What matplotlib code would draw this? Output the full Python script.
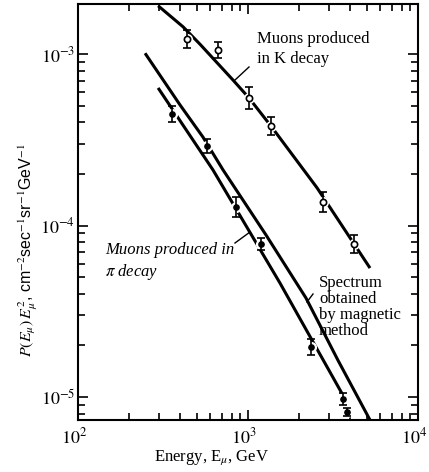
import matplotlib
matplotlib.use('Agg')
import matplotlib.pyplot as plt
import matplotlib.ticker as mticker
import matplotlib.transforms as mtransforms
from matplotlib.lines import Line2D
import numpy as np

plt.rcParams['mathtext.fontset'] = 'stix'
plt.rcParams['font.family'] = ['Liberation Serif', 'DejaVu Serif']

# ---- data ----
# muons from K decay (open circles)
k_energy = [437, 666, 1014, 1365, 2760, 4207]
k_flux = [1.22e-3, 1.05e-3, 5.54e-4, 3.80e-4, 1.37e-4, 7.8e-5]
k_err_dex = [0.052, 0.047, 0.064, 0.052, 0.058, 0.052]

# muons from pi decay (filled dots)
pi_energy = [357, 574, 850, 1192, 2350, 3625, 3817]
pi_flux = [4.47e-4, 2.91e-4, 1.28e-4, 7.8e-5, 1.96e-5, 9.7e-6, 8.2e-6]
pi_err_dex = [0.047, 0.041, 0.058, 0.035, 0.047, 0.035, 0.023]

# curves
k_curve_e = [296, 415, 522, 816, 1014, 1365, 2546, 5220]
k_curve_v = [1.91e-3, 1.44e-3, 1.14e-3, 7.05e-4, 5.54e-4, 3.8e-4, 1.66e-4, 5.65e-5]

mag_curve_e = [248, 398, 543, 713, 1276, 2193, 3381, 5220]
mag_curve_v = [1.01e-3, 5.05e-4, 3.28e-4, 2.11e-4, 8.81e-5, 3.78e-5, 1.64e-5, 7.35e-6]

pi_curve_e = [296, 622, 1542, 3570]
pi_curve_v = [6.34e-4, 2.11e-4, 4.62e-5, 1.05e-5]

x_ticks = [1e2, 1e3, 1e4]
x_tick_labels = [r'$\mathit{10^{2}}$', r'$\mathit{10^{3}}$', r'$\mathit{10^{4}}$']
y_ticks = [1e-5, 1e-4, 1e-3]
y_tick_labels = [r'$\mathit{10^{-5}}$', r'$\mathit{10^{-4}}$', r'$\mathit{10^{-3}}$']

W, H = 429, 472
def fx(p):
    return p / W
def fy(p):
    return 1 - p / H

fig = plt.figure(figsize=(W / 100, H / 100), dpi=100)
ax = fig.add_axes([fx(78), fy(420), (418 - 78) / W, (420 - 4) / H])
ax.set_xscale('log')
ax.set_yscale('log')
ax.set_xlim(100, 1e4)
ax.set_ylim(7.35e-6, 1.956e-3)

lw = 2.2
ax.plot(k_curve_e, k_curve_v, color='black', lw=lw, zorder=2, solid_capstyle='butt')
ax.plot(mag_curve_e, mag_curve_v, color='black', lw=lw, zorder=2, solid_capstyle='butt')
ax.plot(pi_curve_e, pi_curve_v, color='black', lw=lw, zorder=2, solid_capstyle='butt')

def errs(vals, dex):
    v = np.array(vals)
    f = 10 ** np.array(dex)
    return np.vstack([v - v / f, v * f - v])

# white halos to interrupt the curves at the points
ax.plot(k_energy, k_flux, 'o', ms=7, color='white', zorder=3)
ax.plot(pi_energy, pi_flux, 'o', ms=7, color='white', zorder=3)

ax.errorbar(k_energy, k_flux, yerr=errs(k_flux, k_err_dex), fmt='o', ms=4.5,
            mfc='white', mec='black', mew=1.2, ecolor='black', elinewidth=1.2,
            capsize=2.8, capthick=1.2, zorder=4)
ax.errorbar(pi_energy, pi_flux, yerr=errs(pi_flux, pi_err_dex), fmt='o', ms=3.8,
            mfc='black', mec='black', ecolor='black', elinewidth=1.2,
            capsize=2.8, capthick=1.2, zorder=4)

for s in ax.spines.values():
    s.set_linewidth(1.5)

ax.set_xticks(x_ticks, x_tick_labels)
ax.set_yticks(y_ticks, y_tick_labels)
ax.xaxis.set_minor_locator(mticker.LogLocator(base=10, subs=np.arange(2, 10)))
ax.yaxis.set_minor_locator(mticker.LogLocator(base=10, subs=np.arange(2, 10)))
ax.xaxis.set_minor_formatter(mticker.NullFormatter())
ax.yaxis.set_minor_formatter(mticker.NullFormatter())
ax.tick_params(which='both', direction='in', top=True, right=True, width=1.2)
ax.tick_params(which='major', length=7, labelsize=13)
ax.tick_params(axis='x', which='major', pad=5)
ax.tick_params(axis='y', which='major', pad=2)
ax.tick_params(which='minor', length=5)

# shift x tick labels slightly left, as in the reference
shift = mtransforms.ScaledTranslation(-4 / 100, 0, fig.dpi_scale_trans)
for lab in ax.get_xticklabels():
    lab.set_transform(lab.get_transform() + shift)

# axis labels
fig.text(fx(212), fy(458), r'Energy, E$_{\mu}$, GeV', ha='center', va='center', fontsize=12)
fig.text(fx(28), fy(250),
         r'$P(E_\mu)\,E_\mu^2$, cm$^{-2}$sec$^{-1}$sr$^{-1}$GeV$^{-1}$',
         rotation=90, ha='center', va='center', fontsize=11.5,
         family=['Liberation Sans', 'DejaVu Sans'])

# annotations
fig.text(fx(257), fy(31), 'Muons produced\nin K decay', ha='left', va='top',
         fontsize=12, linespacing=1.3)
fig.text(fx(105), fy(242), 'Muons produced in\n$\\pi$ decay', ha='left', va='top',
         fontsize=12, linespacing=1.3, style='italic')
fig.text(fx(319), fy(275), 'Spectrum\nobtained\nby magnetic\nmethod', ha='left', va='top',
         fontsize=12, linespacing=1.0)

for (x0, y0, x1, y1) in [(235, 80, 249, 67), (235, 243, 250, 232), (307, 302, 313, 294)]:
    fig.add_artist(Line2D([fx(x0), fx(x1)], [fy(y0), fy(y1)], color='black', lw=1.0,
                          transform=fig.transFigure))

fig.savefig('out.png', dpi=100)
